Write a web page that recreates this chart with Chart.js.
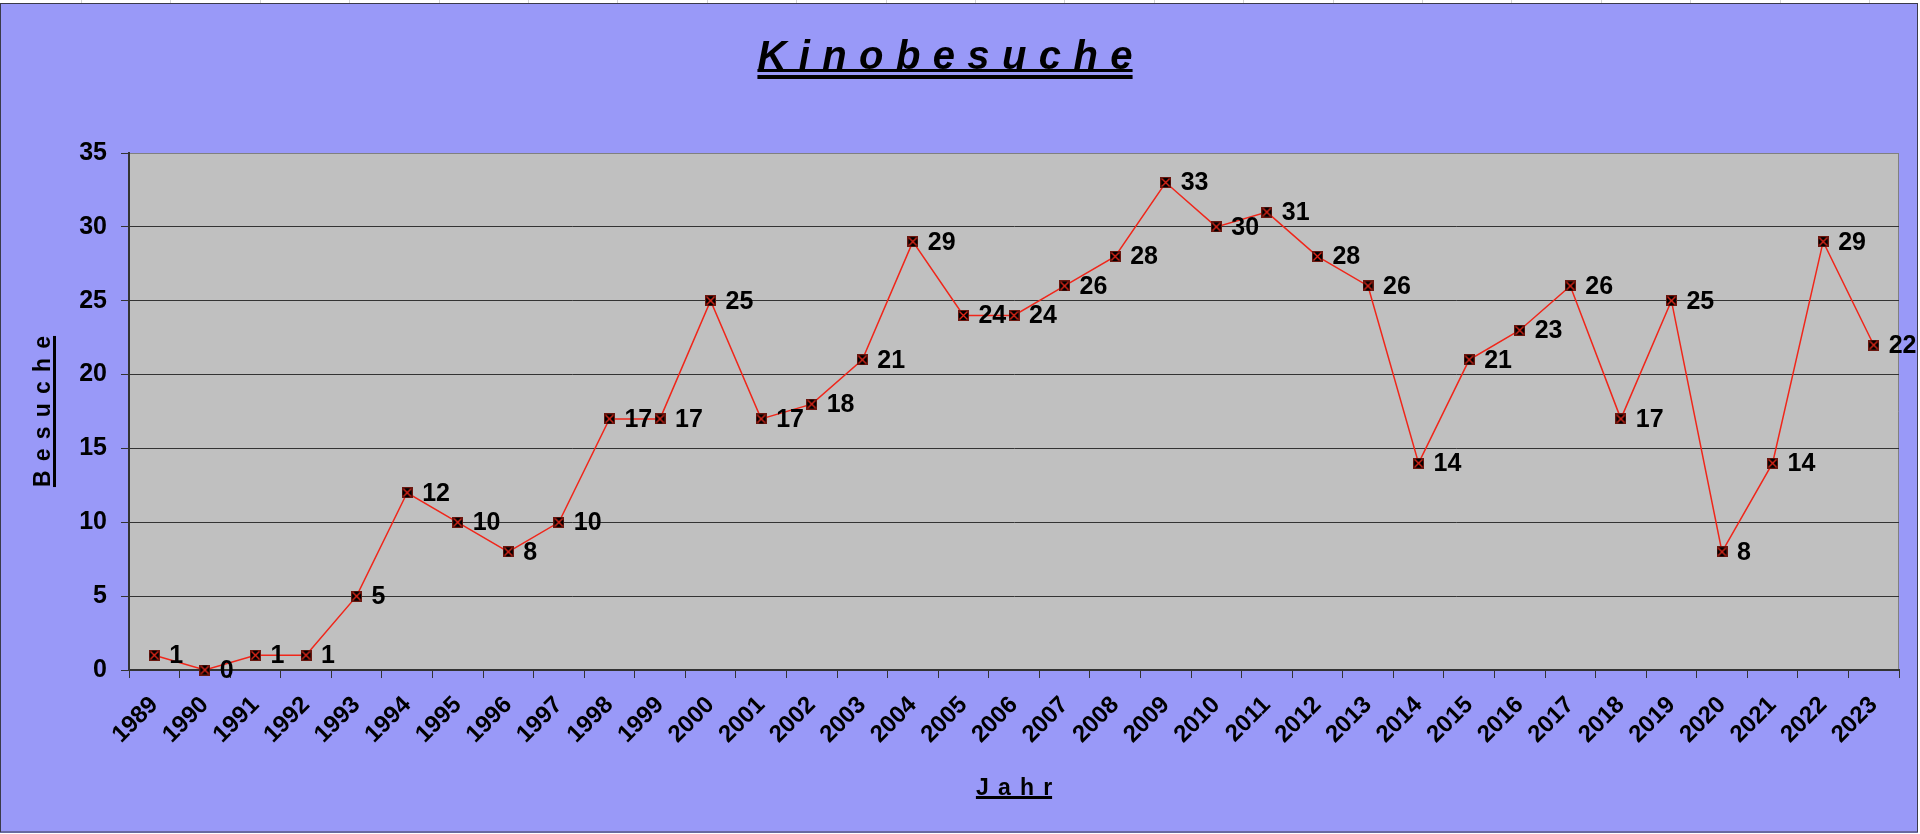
<!DOCTYPE html>
<html><head><meta charset="utf-8">
<script src="https://cdn.jsdelivr.net/npm/chart.js@4/dist/chart.umd.min.js"></script>
<style>html,body{margin:0;padding:0;background:#fff;overflow:hidden}
#wrap{position:absolute;left:0;top:0;width:1920px;height:834px}</style>
</head><body><div id="wrap"><canvas id="c" width="1920" height="834"></canvas></div>
<script>
const years = ['1989','1990','1991','1992','1993','1994','1995','1996','1997','1998','1999','2000','2001','2002','2003','2004','2005','2006','2007','2008','2009','2010','2011','2012','2013','2014','2015','2016','2017','2018','2019','2020','2021','2022','2023'];
const visits = [1,0,1,1,5,12,10,8,10,17,17,25,17,18,21,29,24,24,26,28,33,30,31,28,26,14,21,23,26,17,25,8,14,29,22];
const yTicks = [0,5,10,15,20,25,30,35];
const chartTitle = 'Kinobesuche';
const xTitle = 'Jahr';
const yTitle = 'Besuche';

const FONT = '"Liberation Sans", Arial, sans-serif';
Chart.defaults.font.family = FONT;

function makeMarker(){
  const c = document.createElement('canvas'); c.width = 11; c.height = 11;
  const g = c.getContext('2d');
  g.fillStyle = '#000'; g.fillRect(0,0,11,11);
  g.strokeStyle = '#e8281a'; g.lineWidth = 1.3;
  g.beginPath(); g.moveTo(1.5,1.5); g.lineTo(9.5,9.5); g.moveTo(9.5,1.5); g.lineTo(1.5,9.5); g.stroke();
  g.strokeStyle = '#6a1810'; g.lineWidth = 1; g.strokeRect(0.5,0.5,10,10);
  return c;
}

function spacedText(ctx, text, cx, y, spacing){
  const ws = [...text].map(ch => ctx.measureText(ch).width);
  const total = ws.reduce((a,b)=>a+b,0) + spacing*(ws.length-1);
  let x = cx - total/2;
  const x0 = x;
  ctx.textAlign = 'left';
  [...text].forEach((ch,i)=>{ ctx.fillText(ch, x, y); x += ws[i] + spacing; });
  return [x0, x0 + total];
}

const framePlugin = {
  id: 'frame',
  beforeDraw(chart){
    const ctx = chart.ctx, a = chart.chartArea;
    ctx.save();
    ctx.fillStyle = '#fff'; ctx.fillRect(0,0,1920,834);
    ctx.fillStyle = '#d4d4d4';
    for (let x = 81; x < 1920; x += 89.4) ctx.fillRect(Math.round(x),0,1,3);
    ctx.fillStyle = '#9999F8'; ctx.fillRect(0,3,1918,830);
    ctx.strokeStyle = '#3a3a4a'; ctx.lineWidth = 1; ctx.strokeRect(0.5,3.5,1917,828.5);
    ctx.fillStyle = '#C0C0C0'; ctx.fillRect(a.left, a.top, a.right-a.left, a.bottom-a.top);
    ctx.strokeStyle = '#808080'; ctx.lineWidth = 1;
    ctx.beginPath(); ctx.moveTo(a.left, a.top+0.5); ctx.lineTo(a.right-0.5, a.top+0.5); ctx.lineTo(a.right-0.5, a.bottom); ctx.stroke();
    ctx.restore();
  },
  afterDatasetsDraw(chart){
    const ctx = chart.ctx;
    const meta = chart.getDatasetMeta(0);
    ctx.save();
    ctx.font = 'bold 25px ' + FONT; ctx.fillStyle = '#000';
    ctx.textAlign = 'left'; ctx.textBaseline = 'middle';
    meta.data.forEach((p,i)=>{ ctx.fillText(String(visits[i]), p.x + 15, p.y + 1); });
    ctx.restore();
  },
  afterDraw(chart){
    const ctx = chart.ctx, a = chart.chartArea;
    ctx.save();
    ctx.fillStyle = '#000'; ctx.textBaseline = 'alphabetic';
    ctx.font = 'italic bold 40px ' + FONT;
    let r = spacedText(ctx, chartTitle, 945, 69, 12.4);
    ctx.fillRect(r[0], 69, r[1]-r[0], 3);
    ctx.fillRect(r[0], 75, r[1]-r[0], 4);
    ctx.font = 'bold 23px ' + FONT;
    r = spacedText(ctx, xTitle, (a.left+a.right)/2, 795, 9.2);
    ctx.fillRect(r[0], 796, r[1]-r[0], 3);
    ctx.translate(50, (a.top+a.bottom)/2);
    ctx.rotate(-Math.PI/2);
    r = spacedText(ctx, yTitle, 0, 0, 9.2);
    ctx.fillRect(r[0], 3, r[1]-r[0], 3);
    ctx.restore();
  }
};

const chart = new Chart(document.getElementById('c'), {
  type: 'line',
  data: {
    labels: years,
    datasets: [{
      data: visits,
      borderColor: '#F0261A',
      borderWidth: 1.5,
      tension: 0,
      pointStyle: makeMarker(),
      pointRadius: 5,
      clip: false
    }]
  },
  options: {
    responsive: false,
    devicePixelRatio: 1,
    animation: false,
    layout: { padding: { left: 0, top: 153, right: 21, bottom: 0 } },
    plugins: { legend: { display: false }, tooltip: { enabled: false }, title: { display: false } },
    scales: {
      x: {
        type: 'category',
        offset: true,
        afterFit(s){ s.height = 164; },
        grid: { display: true, drawOnChartArea: false, offset: true, tickLength: 8, color: '#333', tickColor: '#333' },
        border: { display: true, color: '#333', width: 2 },
        ticks: { autoSkip: false, maxRotation: 45, minRotation: 45, padding: 13, color: '#000', font: { size: 24, weight: 'bold' } }
      },
      y: {
        min: yTicks[0], max: yTicks[yTicks.length-1],
        afterFit(s){ s.width = 129; },
        afterBuildTicks(s){ s.ticks = yTicks.map(v => ({ value: v })); },
        grid: { color: (c) => (c.tick && c.tick.value === yTicks[yTicks.length-1]) ? '#808080' : '#333', tickLength: 8, tickColor: '#333', lineWidth: 1 },
        border: { display: true, color: '#333', width: 2 },
        ticks: { padding: 14, color: '#000', font: { size: 25, weight: 'bold' } }
      }
    }
  },
  plugins: [framePlugin]
});

(function fix(){
  const target = { left: 129, top: 153, right: 1899, bottom: 670 };
  for (let k = 0; k < 2; k++) {
    const a = chart.chartArea, p = chart.options.layout.padding;
    const dt = target.top - a.top, dr = a.right - target.right;
    if (Math.abs(dt) < 0.5 && Math.abs(dr) < 0.5) break;
    p.top += dt; p.right += dr;
    chart.update();
  }
})();
</script></body></html>
